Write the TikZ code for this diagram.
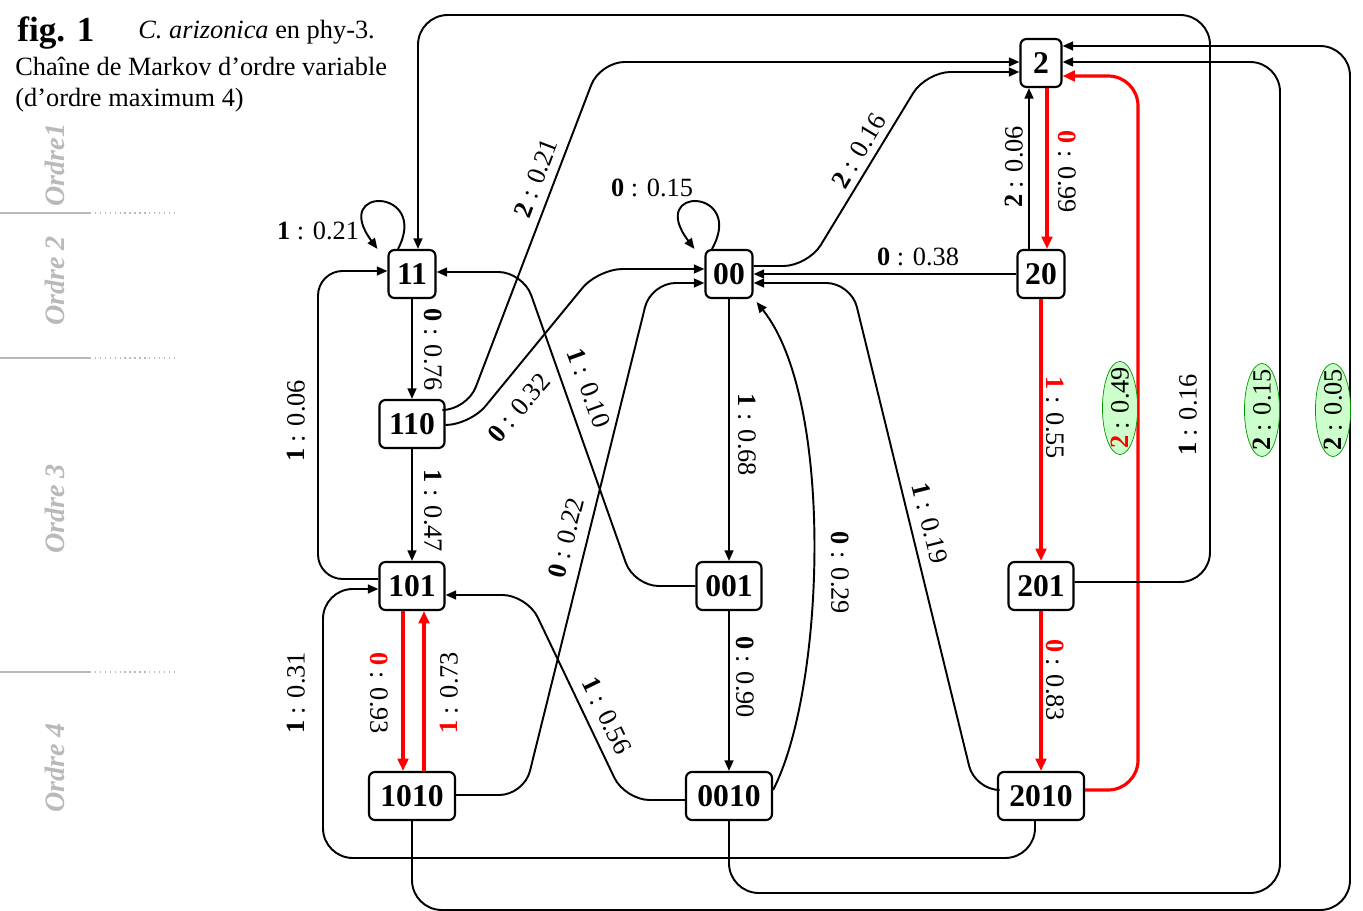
\documentclass[tikz,border=0pt]{standalone}
\usepackage{fontspec}
\setmainfont{Liberation Serif}
\usetikzlibrary{arrows.meta,calc,shapes.geometric}
\definecolor{ordgray}{RGB}{185,185,185}
\definecolor{lgreen}{RGB}{204,255,204}
\definecolor{egreen}{RGB}{0,150,0}
\begin{document}
\begin{tikzpicture}[x=0.02cm,y=-0.02cm,
  stbox/.style={draw, rounded corners=3.4pt, line width=1.2pt, minimum height=0.96cm, inner sep=0pt, font=\fontsize{18}{20}\selectfont\bfseries},
  arr/.style={line width=1.1pt, -{Triangle[length=6pt,width=5pt]}},
  rarr/.style={line width=1.8pt, red, -{Triangle[length=7pt,width=6pt]}},
  lab/.style={inner sep=0pt, font=\fontsize{15}{18}\selectfont},
  ell/.style={ellipse, draw=egreen, line width=0.4pt, fill=lgreen, inner sep=0pt, minimum width=53pt, minimum height=20pt, rotate=90, font=\fontsize{15}{18}\selectfont},
  ord/.style={text=ordgray, rotate=90, inner sep=0pt, font=\fontsize{16}{18}\selectfont\bfseries\itshape},
  ordline/.style={ordgray, line width=0.8pt},
  rc/.style={rounded corners=14pt},
  rcb/.style={rounded corners=17pt},
  ttl/.style={anchor=base west, inner sep=0pt, font=\fontsize{15}{18}\selectfont}
]
\useasboundingbox (0,0) rectangle (1363,911);

% title
\node[anchor=base west, inner sep=0pt, font=\fontsize{20}{22}\selectfont\bfseries] (fig) at (17,42) {fig. 1};
\node[ttl] (t1) at (138,39) {\textit{C. arizonica} en phy-3.};
\node[ttl] (t2) at (15,76) {Chaîne de Markov d’ordre variable};
\node[ttl] (t3) at (15,107) {(d’ordre maximum 4)};

% order bands
\node[ord] (o1) at (55,165) {Ordre1};
\node[ord] (o2) at (55,281) {Ordre 2};
\node[ord] (o3) at (55,509) {Ordre 3};
\node[ord] (o4) at (55,768) {Ordre 4};
\foreach \yy in {213,358,672}{
  \draw[ordline] (0,\yy) -- (90,\yy);
  \draw[ordline, dotted] (90,\yy) -- (175,\yy);
}

% states
\node[stbox, minimum width=0.82cm] (n2) at (1041,63) {2};
\node[stbox, minimum width=0.94cm] (n11) at (412,274) {11};
\node[stbox, minimum width=0.94cm] (n00) at (729,274) {00};
\node[stbox, minimum width=0.94cm] (n20) at (1041,274) {20};
\node[stbox, minimum width=1.3cm] (n110) at (412,424) {110};
\node[stbox, minimum width=1.3cm] (n101) at (412,586) {101};
\node[stbox, minimum width=1.3cm] (n001) at (729,586) {001};
\node[stbox, minimum width=1.3cm] (n201) at (1041,586) {201};
\node[stbox, minimum width=1.72cm] (n1010) at (412,796) {1010};
\node[stbox, minimum width=1.72cm] (n0010) at (729,796) {0010};
\node[stbox, minimum width=1.72cm] (n2010) at (1041,796) {2010};

% self loops
\draw[arr] ($(n11.north)+(-14,0)$) .. controls (430,188) and (330,185) .. ($(n11.north west)+(-10,0)$);
\node[lab] (l11) at (318,231) {\textbf{1} : 0.21};
\draw[arr] ($(n00.north)+(-17,0)$) .. controls (746,188) and (646,185) .. ($(n00.north west)+(-10,0)$);
\node[lab] (l00) at (652,188) {\textbf{0} : 0.15};

% left column
\draw[arr] (n11.south) -- (n110.north);
\node[lab, rotate=-90] (l1176) at (433,350) {\textbf{0} : 0.76};
\draw[arr] (n110.south) -- (n101.north);
\node[lab, rotate=-90] (l1047) at (433,511) {\textbf{1} : 0.47};
\draw[arr, rc] ($(n101.west)+(0,-7)$) -- (318,579) -- (318,271) -- ($(n11.west)+(0,-3)$);
\node[lab, rotate=90] (l006) at (296,421) {\textbf{1} : 0.06};
\draw[arr, rcb] ($(n2010.south)+(-6,0)$) -- (1035,858) -- (323,858) -- (323,589) -- ($(n101.west)+(0,3)$);
\node[lab, rotate=90] (l031) at (296,693) {\textbf{1} : 0.31};
\draw[rarr] ($(n101.south)+(-9,0)$) -- ($(n1010.north)+(-9,0)$);
\node[lab, rotate=-90] (l093) at (379,693) {\textcolor{red}{\textbf{0}} : 0.93};
\draw[rarr] ($(n1010.north)+(12,0)$) -- ($(n101.south)+(12,0)$);
\node[lab, rotate=90] (l073) at (449,693) {\textcolor{red}{\textbf{1}} : 0.73};

% diagonals
\draw[arr, rc] ($(n110.east)+(0,-14)$) -- (467,410) -- (600,62) -- ($(n2.west)+(0,-1)$);
\node[lab, rotate=69] (l021) at (536,178) {\textbf{2} : 0.21};
\draw[arr, rc] ($(n110.east)+(0,1)$) -- (470,425) -- (598,269) -- ($(n00.west)+(0,-5)$);
\node[lab, rotate=50] (l032) at (519,408) {\textbf{0} : 0.32};
\draw[arr, rc] (n001.west) -- (634,586) -- (523,272) -- ($(n11.east)+(0,-2)$);
\node[lab, rotate=-70] (l010) at (589,388) {\textbf{1} : 0.10};
\draw[arr, rc] ($(n1010.east)+(0,-1)$) -- (524,795) -- (651,283) -- ($(n00.west)+(0,9)$);
\node[lab, rotate=76] (l022) at (566,538) {\textbf{0} : 0.22};
\draw[arr, rc] ($(n0010.west)+(0,4)$) -- (625,800) -- (527,595) -- ($(n101.east)+(0,9)$);
\node[lab, rotate=-64] (l056) at (607,716) {\textbf{1} : 0.56};

% middle column
\draw[arr] (n00.south) -- (n001.north);
\node[lab, rotate=-90] (l068) at (747,435) {\textbf{1} : 0.68};
\draw[arr] (n001.south) -- (n0010.north);
\node[lab, rotate=-90] (l090) at (745,677) {\textbf{0} : 0.90};
\draw[arr] ($(n0010.east)+(0,-6)$) .. controls (825,690) and (835,400) .. ($(n00.south east)+(3,3)$);
\node[lab, rotate=-90] (l029) at (840,573) {\textbf{0} : 0.29};
\draw[arr, rc] ($(n2010.west)+(0,-6)$) -- (975,790) -- (851,283) -- ($(n00.east)+(0,9)$);
\node[lab, rotate=-76] (l019) at (930,523) {\textbf{1} : 0.19};
\draw[arr] (n20.west) -- (n00.east);
\node[lab] (l038) at (918,257) {\textbf{0} : 0.38};
\draw[arr, rc] ($(n00.east)+(0,-8)$) -- (808,266) -- (926,72) -- ($(n2.west)+(0,9)$);
\node[lab, rotate=59] (l016) at (859,151) {\textbf{2} : 0.16};

% right column
\draw[rarr] ($(n2.south)+(6,0)$) -- ($(n20.north)+(6,0)$);
\node[lab, rotate=-90] (l099) at (1067,172) {\textcolor{red}{\textbf{0}} : 0.99};
\draw[arr] ($(n20.north)+(-12,0)$) -- ($(n2.south)+(-12,0)$);
\node[lab, rotate=90] (l006b) at (1014,167) {\textbf{2} : 0.06};
\draw[rarr] (n20.south) -- (n201.north);
\node[lab, rotate=-90] (l055) at (1055,418) {\textcolor{red}{\textbf{1}} : 0.55};
\draw[rarr] (n201.south) -- (n2010.north);
\node[lab, rotate=-90] (l083) at (1055,680) {\textcolor{red}{\textbf{0}} : 0.83};

% long returns
\draw[rarr, rcb] ($(n2010.east)+(0,-6)$) -- (1138,790) -- (1138,76) -- ($(n2.east)+(0,13)$);
\draw[arr, rcb] ($(n201.east)+(0,-4)$) -- (1210,582) -- (1210,15) -- (418,15) -- ($(n11.north)+(6,0)$);
\node[lab, rotate=90] (l016b) at (1188,415) {\textbf{1} : 0.16};
\draw[arr, rcb] (n0010.south) -- (729,893) -- (1280,893) -- (1280,62) -- ($(n2.east)+(0,-1)$);
\draw[arr, rcb] (n1010.south) -- (412,910) -- (1350,910) -- (1350,46) -- ($(n2.east)+(0,-17)$);

\node[ell] (l049) at (1120,408) {\makebox[0pt]{\textcolor{red}{\textbf{2}} : 0.49}};
\node[ell] (l015) at (1262,410) {\makebox[0pt]{\textbf{2} : 0.15}};
\node[ell] (l005) at (1333,410) {\makebox[0pt]{\textbf{2} : 0.05}};
\end{tikzpicture}
\end{document}
